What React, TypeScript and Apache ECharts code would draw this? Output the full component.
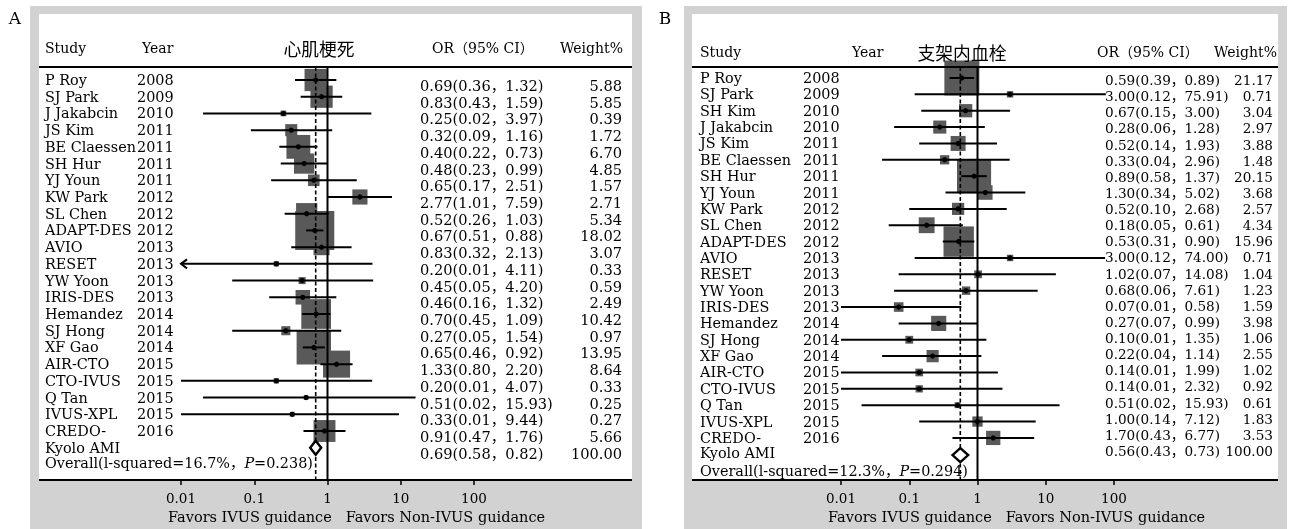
import { useEffect, useRef } from "react";
import * as echarts from "echarts";

// ---------- Panel A data (心肌梗死) ----------
const studiesA = ["P Roy", "SJ Park", "J Jakabcin", "JS Kim", "BE Claessen", "SH Hur", "YJ Youn", "KW Park", "SL Chen", "ADAPT-DES", "AVIO", "RESET", "YW Yoon", "IRIS-DES", "Hemandez", "SJ Hong", "XF Gao", "AIR-CTO", "CTO-IVUS", "Q Tan", "IVUS-XPL", "CREDO-\nKyolo AMI"];
const yearsA = [2008, 2009, 2010, 2011, 2011, 2011, 2011, 2012, 2012, 2012, 2013, 2013, 2013, 2013, 2014, 2014, 2014, 2015, 2015, 2015, 2015, 2016];
const orA = [0.69, 0.83, 0.25, 0.32, 0.40, 0.48, 0.65, 2.77, 0.52, 0.67, 0.83, 0.20, 0.45, 0.46, 0.70, 0.27, 0.65, 1.33, 0.20, 0.51, 0.33, 0.91];
const loA = [0.36, 0.43, 0.02, 0.09, 0.22, 0.23, 0.17, 1.01, 0.26, 0.51, 0.32, 0.01, 0.05, 0.16, 0.45, 0.05, 0.46, 0.80, 0.01, 0.02, 0.01, 0.47];
const hiA = [1.32, 1.59, 3.97, 1.16, 0.73, 0.99, 2.51, 7.59, 1.03, 0.88, 2.13, 4.11, 4.20, 1.32, 1.09, 1.54, 0.92, 2.20, 4.07, 15.93, 9.44, 1.76];
const weightA = [5.88, 5.85, 0.39, 1.72, 6.70, 4.85, 1.57, 2.71, 5.34, 18.02, 3.07, 0.33, 0.59, 2.49, 10.42, 0.97, 13.95, 8.64, 0.33, 0.25, 0.27, 5.66];
const arrowA = ["RESET"];
const overallA = [0.69, 0.58, 0.82];
const hetA = ["16.7%", "0.238"];

// ---------- Panel B data (支架内血栓) ----------
const studiesB = ["P Roy", "SJ Park", "SH Kim", "J Jakabcin", "JS Kim", "BE Claessen", "SH Hur", "YJ Youn", "KW Park", "SL Chen", "ADAPT-DES", "AVIO", "RESET", "YW Yoon", "IRIS-DES", "Hemandez", "SJ Hong", "XF Gao", "AIR-CTO", "CTO-IVUS", "Q Tan", "IVUS-XPL", "CREDO-\nKyolo AMI"];
const yearsB = [2008, 2009, 2010, 2010, 2011, 2011, 2011, 2011, 2012, 2012, 2012, 2013, 2013, 2013, 2013, 2014, 2014, 2014, 2015, 2015, 2015, 2015, 2016];
const orB = [0.59, 3.00, 0.67, 0.28, 0.52, 0.33, 0.89, 1.30, 0.52, 0.18, 0.53, 3.00, 1.02, 0.68, 0.07, 0.27, 0.10, 0.22, 0.14, 0.14, 0.51, 1.00, 1.70];
const loB = [0.39, 0.12, 0.15, 0.06, 0.14, 0.04, 0.58, 0.34, 0.10, 0.05, 0.31, 0.12, 0.07, 0.06, 0.01, 0.07, 0.01, 0.04, 0.01, 0.01, 0.02, 0.14, 0.43];
const hiB = [0.89, 75.91, 3.00, 1.28, 1.93, 2.96, 1.37, 5.02, 2.68, 0.61, 0.90, 74.00, 14.08, 7.61, 0.58, 0.99, 1.35, 1.14, 1.99, 2.32, 15.93, 7.12, 6.77];
const weightB = [21.17, 0.71, 3.04, 2.97, 3.88, 1.48, 20.15, 3.68, 2.57, 4.34, 15.96, 0.71, 1.04, 1.23, 1.59, 3.98, 1.06, 2.55, 1.02, 0.92, 0.61, 1.83, 3.53];
const arrowB: string[] = [];
const overallB = [0.56, 0.43, 0.73];
const hetB = ["12.3%", "0.294"];

const tickLabels = ["0.01", "0.1", "1", "10", "100"];
const favorsText = "Favors IVUS guidance   Favors Non-IVUS guidance";

const SERIF = '"DejaVu Serif", "Noto Sans CJK SC", serif';
const CJK = '"Noto Sans CJK SC", sans-serif';

const panels = [
  {
    label: "A", title: "心肌梗死",
    studies: studiesA, years: yearsA, or: orA, lo: loA, hi: hiA, weight: weightA, arrows: arrowA, overall: overallA, het: hetA,
    gray: [30, 6, 612, 523], white: [39, 14, 593, 466], labelPos: [15, 18],
    grid: { left: 181, top: 67, width: 293, height: 413 }, yMin: -0.778, yMax: 23.932,
    cols: { name: 45, year: 137, or: 420, weight: 622 },
    headerY: 48, hdr: { study: 45, year: 142, title: 319, or: 432, weight: 623 },
    rowFont: 14.4, orFont: 14.6, orOffset: 5.5, orScale: 1.0, boxScale: 9.2, kyoloGap: 17,
    diamondRow: 22, overallTextRow: 22.9, favorsX: 168,
  },
  {
    label: "B", title: "支架内血栓",
    studies: studiesB, years: yearsB, or: orB, lo: loB, hi: hiB, weight: weightB, arrows: arrowB, overall: overallB, het: hetB,
    gray: [684, 6, 603, 523], white: [692, 14, 586, 466], labelPos: [665, 18],
    grid: { left: 841, top: 67, width: 273, height: 413 }, yMin: -0.672, yMax: 24.572,
    cols: { name: 700, year: 803, or: 1105, weight: 1273 },
    headerY: 52, hdr: { study: 700, year: 852, title: 962, or: 1097, weight: 1277 },
    rowFont: 14.4, orFont: 13.6, orOffset: 2, orScale: 0.986, boxScale: 7.6, kyoloGap: 15,
    diamondRow: 23.05, overallTextRow: 24.0, favorsX: 828,
  },
];

function textEl(x: number, y: number, text: string, size: number, align = "left", family = SERIF, extra: any = {}) {
  return {
    type: "text", x, y, z: 30, silent: true,
    style: {
      text, fill: "#000", fontSize: size, fontFamily: family,
      textAlign: align, align, textVerticalAlign: "middle", verticalAlign: "middle", ...extra,
    },
  };
}

const ciText = (o: number, l: number, h: number) => `${o.toFixed(2)}(${l.toFixed(2)}，${h.toFixed(2)})`;

function buildOption() {
  const grids: any[] = [];
  const xAxes: any[] = [];
  const yAxes: any[] = [];
  const series: any[] = [];
  const graphics: any[] = [];

  panels.forEach((p, idx) => {
    grids.push({ ...p.grid, containLabel: false });
    xAxes.push({
      type: "log", logBase: 10, min: 0.01, max: 100, gridIndex: idx, position: "bottom",
      axisLine: { show: false, onZero: false },
      axisTick: { show: true, length: 5, inside: false, lineStyle: { color: "#000", width: 1.5 } },
      axisLabel: {
        color: "#000", fontFamily: SERIF, fontSize: 13.5, margin: 11,
        formatter: (v: number) => tickLabels[Math.round(Math.log10(v)) + 2] ?? "",
      },
      splitLine: { show: false },
    });
    yAxes.push({ type: "value", inverse: true, min: p.yMin, max: p.yMax, gridIndex: idx, show: false });

    const rows = p.or.map((v, i) => [v, i, p.lo[i], p.hi[i], p.weight[i], p.arrows.includes(p.studies[i]) ? 1 : 0]);

    // weight boxes
    series.push({
      type: "custom", xAxisIndex: idx, yAxisIndex: idx, silent: true, z: 2,
      data: rows, encode: { x: 0, y: 1 },
      renderItem: (_params: any, api: any) => {
        const c = api.coord([api.value(0), api.value(1)]);
        const s = p.boxScale * Math.sqrt(api.value(4));
        return { type: "rect", shape: { x: c[0] - s / 2, y: c[1] - s / 2, width: s, height: s }, style: { fill: "#595959" } };
      },
    });

    // reference lines: no-effect (1) and overall estimate
    series.push({
      type: "custom", xAxisIndex: idx, yAxisIndex: idx, silent: true, z: 3,
      data: [[1, 0], [p.overall[0], 0]], encode: { x: 0, y: 1 },
      renderItem: (params: any, api: any) => {
        const x = api.coord([api.value(0), 0])[0];
        const cs = params.coordSys;
        const dashed = params.dataIndex === 1;
        return {
          type: "line",
          shape: { x1: x, y1: cs.y, x2: x, y2: cs.y + cs.height },
          style: dashed ? { stroke: "#000", lineWidth: 1.6, lineDash: [4, 2.5] } : { stroke: "#000", lineWidth: 2 },
        };
      },
    });

    // CI lines and point estimates
    series.push({
      type: "custom", xAxisIndex: idx, yAxisIndex: idx, silent: true, z: 4,
      data: rows, encode: { x: 0, y: 1 },
      renderItem: (_params: any, api: any) => {
        const r = api.value(1);
        const c = api.coord([api.value(0), r]);
        const a = api.coord([api.value(2), r]);
        const b = api.coord([api.value(3), r]);
        const children: any[] = [
          { type: "line", shape: { x1: a[0], y1: a[1], x2: b[0], y2: b[1] }, style: { stroke: "#000", lineWidth: 2 } },
          { type: "circle", shape: { cx: c[0], cy: c[1], r: 2.6 }, style: { fill: "#000" } },
        ];
        if (api.value(5) === 1) {
          children.push({
            type: "polyline",
            shape: { points: [[a[0] + 6, a[1] - 4.5], [a[0], a[1]], [a[0] + 6, a[1] + 4.5]] },
            style: { stroke: "#000", lineWidth: 2, fill: null },
          });
        }
        return { type: "group", children };
      },
    });

    // overall diamond
    series.push({
      type: "custom", xAxisIndex: idx, yAxisIndex: idx, silent: true, z: 5,
      data: [[p.overall[0], p.diamondRow, p.overall[1], p.overall[2]]], encode: { x: 0, y: 1 },
      renderItem: (_params: any, api: any) => {
        const r = api.value(1);
        const c = api.coord([api.value(0), r]);
        const a = api.coord([api.value(2), r]);
        const b = api.coord([api.value(3), r]);
        const h = 7;
        return {
          type: "polygon",
          shape: { points: [[a[0], c[1]], [c[0], c[1] - h], [b[0], c[1]], [c[0], c[1] + h]] },
          style: { fill: "#fff", stroke: "#000", lineWidth: 2.4 },
        };
      },
    });

    // row texts
    const textRows = p.studies.map((_s, i) => [1, i]);
    textRows.push([1, p.studies.length]);
    series.push({
      type: "custom", xAxisIndex: idx, yAxisIndex: idx, silent: true, z: 6,
      data: textRows, encode: { x: 0, y: 1 },
      renderItem: (_params: any, api: any) => {
        const i = api.value(1);
        const n = p.studies.length;
        const yo = api.coord([1, i * p.orScale])[1] + p.orOffset;
        const children: any[] = [];
        if (i < n) {
          const y = api.coord([1, i])[1];
          p.studies[i].split("\n").forEach((line, k) => {
            children.push(textEl(p.cols.name, y + k * p.kyoloGap, line, p.rowFont));
          });
          children.push(textEl(p.cols.year, y, String(p.years[i]), p.rowFont));
          children.push(textEl(p.cols.or, yo, ciText(p.or[i], p.lo[i], p.hi[i]), p.orFont));
          children.push(textEl(p.cols.weight, yo, p.weight[i].toFixed(2), p.orFont, "right"));
        } else {
          const yt = api.coord([1, p.overallTextRow])[1];
          children.push(textEl(p.cols.name, yt, `Overall(l-squared=${p.het[0]}，{i|P}=${p.het[1]})`, p.rowFont, "left", SERIF, {
            rich: { i: { fontStyle: "italic", fontSize: p.rowFont, fontFamily: SERIF, fill: "#000" } },
          }));
          children.push(textEl(p.cols.or, yo, ciText(p.overall[0], p.overall[1], p.overall[2]), p.orFont));
          children.push(textEl(p.cols.weight, yo, (100).toFixed(2), p.orFont, "right"));
        }
        return { type: "group", children };
      },
    });

    // frame, header, decorations
    const [gx, gy, gw, gh] = p.gray;
    const [wx, wy, ww, wh] = p.white;
    graphics.push({ type: "rect", z: -20, silent: true, shape: { x: gx, y: gy, width: gw, height: gh }, style: { fill: "#d2d2d2" } });
    graphics.push({ type: "rect", z: -10, silent: true, shape: { x: wx, y: wy, width: ww, height: wh }, style: { fill: "#ffffff" } });
    graphics.push({ type: "line", z: 20, silent: true, shape: { x1: wx, y1: p.grid.top, x2: wx + ww, y2: p.grid.top }, style: { stroke: "#000", lineWidth: 2 } });
    graphics.push({ type: "line", z: 20, silent: true, shape: { x1: wx, y1: p.grid.top + p.grid.height, x2: wx + ww, y2: p.grid.top + p.grid.height }, style: { stroke: "#000", lineWidth: 2 } });
    graphics.push(textEl(p.labelPos[0], p.labelPos[1], p.label, 17, "center"));
    graphics.push(textEl(p.hdr.study, p.headerY, "Study", 14));
    graphics.push(textEl(p.hdr.year, p.headerY, "Year", 14));
    graphics.push(textEl(p.hdr.title, p.headerY, p.title, 17.8, "center", CJK));
    graphics.push(textEl(p.hdr.or, p.headerY, "OR（95% CI）", 14));
    graphics.push(textEl(p.hdr.weight, p.headerY, "Weight%", 14, "right"));
    graphics.push(textEl(p.favorsX, 517, favorsText, 14.5));
  });

  return {
    animation: false,
    grid: grids,
    xAxis: xAxes,
    yAxis: yAxes,
    series,
    graphic: { elements: graphics },
  };
}

export default function App() {
  const ref = useRef<HTMLDivElement>(null);
  useEffect(() => {
    if (!ref.current) return;
    const chart = echarts.init(ref.current, undefined, { renderer: "svg" });
    chart.setOption(buildOption() as any);
    return () => chart.dispose();
  }, []);
  return <div ref={ref} style={{ position: "fixed", left: 0, top: 0, width: 1292, height: 529 }} />;
}
